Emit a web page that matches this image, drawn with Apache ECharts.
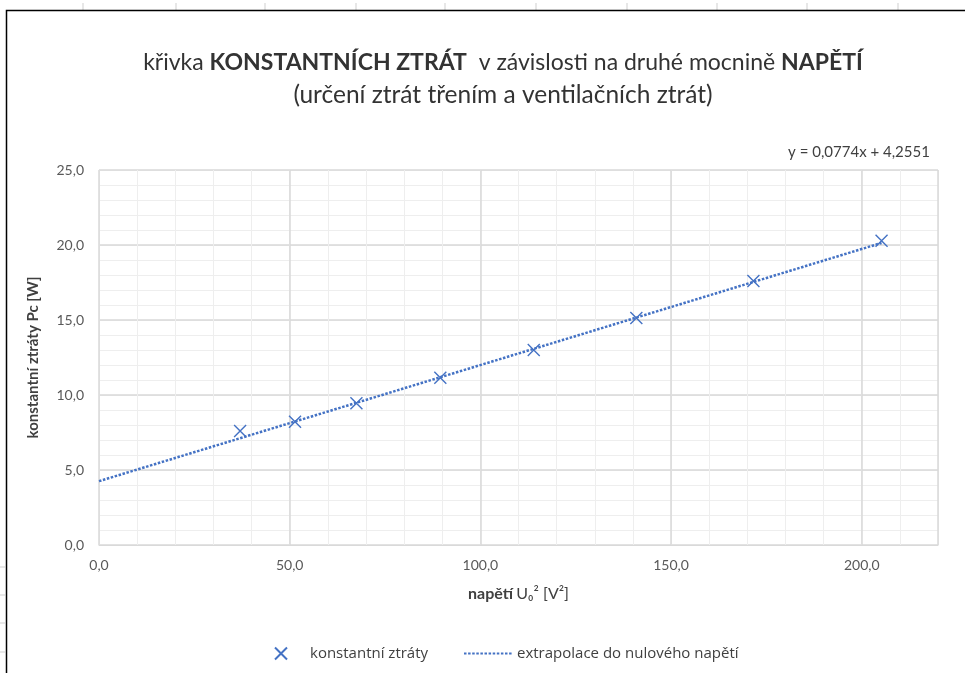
<!DOCTYPE html>
<html>
<head>
<meta charset="utf-8">
<script src="https://cdn.jsdelivr.net/npm/echarts@6/dist/echarts.min.js"></script>
<style>
  html, body { margin: 0; padding: 0; background: #fff; }
  #chart { width: 965px; height: 673px; }
</style>
</head>
<body>
<div id="chart"></div>
<script>
// Measured points: squared voltage U0^2 [V^2] and constant losses Pc [W]
const voltageSq = [37.0, 51.4, 67.5, 89.5, 114.0, 140.9, 171.6, 205.2];
const constLoss = [7.6, 8.22, 9.45, 11.15, 13.0, 15.13, 17.6, 20.29];

// Linear trend stated in the chart: y = 0,0774x + 4,2551
const trendSlope = 0.0774;
const trendIntercept = 4.2551;

// Axis tick values
const xTicks = [0, 50, 100, 150, 200];
const yTicks = [0, 5, 10, 15, 20, 25];

const seriesNames = ['konstantní ztráty', 'extrapolace do nulového napětí'];

const FONT = 'Lato, "Liberation Sans", sans-serif';
const FONT_WIDE = '"Open Sans", Lato, sans-serif';
const BLUE = '#4472C4';
const fmt = v => v.toFixed(1).replace('.', ',');

const points = voltageSq.map((x, i) => [x, constLoss[i]]);
const xEnd = Math.max(...voltageSq);
const trendLine = [0, xEnd].map(x => [x, trendIntercept + trendSlope * x]);

const xMax = 220, yMax = 25;

const chart = echarts.init(document.getElementById('chart'), null, { renderer: 'canvas' });

// Spreadsheet cell edges peeking out along the top and left border
const edgeMarks = [];
[83, 176, 265, 356, 445, 536, 627, 717, 807, 898].forEach(x => {
  edgeMarks.push({ type: 'line', shape: { x1: x, y1: 3, x2: x, y2: 10 }, style: { stroke: '#cfcfcf', lineWidth: 1 }, silent: true });
});
[567, 595, 623, 652].forEach(y => {
  edgeMarks.push({ type: 'line', shape: { x1: 0, y1: y, x2: 5, y2: y }, style: { stroke: '#cfcfcf', lineWidth: 1 }, silent: true });
});

chart.setOption({
  backgroundColor: '#ffffff',
  animation: false,
  title: {
    text: '{n|křivka }{b|KONSTANTNÍCH ZTRÁT}{n|  v závislosti na druhé mocnině }{b|NAPĚTÍ}\n{m|(určení ztrát třením a ventilačních ztrát)}',
    left: 498,
    top: 42,
    textAlign: 'center',
    textStyle: {
      fontWeight: 'normal',
      rich: {
        n: { fontFamily: FONT, fontSize: 23, fontWeight: 'normal', color: '#333333', lineHeight: 32 },
        b: { fontFamily: FONT, fontSize: 23, fontWeight: 'bold', color: '#333333', lineHeight: 32 },
        m: { fontFamily: FONT, fontSize: 24.5, fontWeight: 'normal', color: '#333333', lineHeight: 32 }
      }
    }
  },
  legend: [
    {
      data: [seriesNames[0]],
      left: 269, top: 641,
      itemWidth: 12, itemHeight: 12,
      textStyle: { fontFamily: FONT_WIDE, fontSize: 15, color: '#404040', padding: [0, 0, 0, 18] }
    },
    {
      data: [seriesNames[1]],
      left: 458, top: 641,
      itemWidth: 48, itemHeight: 12,
      itemStyle: { opacity: 0 },
      textStyle: { fontFamily: FONT_WIDE, fontSize: 15, color: '#404040' }
    }
  ],
  grid: { left: 99, right: 27, top: 170, bottom: 128, containLabel: false },
  xAxis: [
    {
      // minor grid every 10
      type: 'value', position: 'bottom', min: 0, max: xMax, interval: 10,
      axisLine: { show: false }, axisTick: { show: false }, axisLabel: { show: false },
      splitLine: { show: true, lineStyle: { color: '#eeeeee', width: 1 } }
    },
    {
      type: 'value', position: 'bottom', min: 0, max: xMax, interval: 50,
      name: '{b|napětí} {n|U₀² [V²]}',
      nameLocation: 'middle', nameGap: 41,
      nameTextStyle: {
        rich: {
          b: { fontFamily: FONT, fontSize: 16, fontWeight: 'bold', color: '#404040' },
          n: { fontFamily: FONT, fontSize: 16, color: '#404040' }
        }
      },
      axisLine: { show: true, onZero: false, lineStyle: { color: '#d9d9d9', width: 1 } },
      axisTick: { show: false },
      axisLabel: {
        fontFamily: FONT, fontSize: 14, color: '#595959', margin: 13,
        showMaxLabel: false,
        formatter: v => (xTicks.includes(v) ? fmt(v) : '')
      },
      splitLine: { show: true, lineStyle: { color: '#d9d9d9', width: 1.5 } }
    }
  ],
  yAxis: [
    {
      type: 'value', position: 'left', min: 0, max: yMax, interval: 1,
      axisLine: { show: false }, axisTick: { show: false }, axisLabel: { show: false },
      splitLine: { show: true, lineStyle: { color: '#eeeeee', width: 1 } }
    },
    {
      type: 'value', position: 'left', min: 0, max: yMax, interval: 5,
      name: 'konstantní ztráty Pc [W]',
      nameLocation: 'middle', nameGap: 58,
      nameTextStyle: { fontFamily: FONT, fontSize: 15, fontWeight: 'bold', color: '#404040' },
      axisLine: { show: false }, axisTick: { show: false },
      axisLabel: {
        fontFamily: FONT, fontSize: 14, color: '#595959', margin: 15,
        formatter: v => (yTicks.includes(v) ? fmt(v) : '')
      },
      splitLine: { show: true, lineStyle: { color: '#d9d9d9', width: 1.5 } }
    }
  ],
  series: [
    {
      name: seriesNames[1],
      type: 'line',
      xAxisIndex: 1, yAxisIndex: 1,
      data: trendLine,
      symbol: 'none',
      lineStyle: { color: BLUE, width: 2.5, type: [2.5, 1.6] },
      itemStyle: { color: BLUE },
      z: 3
    },
    {
      name: seriesNames[0],
      type: 'scatter',
      xAxisIndex: 1, yAxisIndex: 1,
      data: points,
      symbol: 'path://M0,0L10,10M10,0L0,10',
      symbolSize: 12,
      itemStyle: { color: BLUE, borderColor: BLUE, borderWidth: 1.4, opacity: 1 },
      z: 4
    }
  ],
  graphic: [
    {
      type: 'rect',
      shape: { x: 6.5, y: 10.5, width: 1000, height: 700 },
      style: { fill: 'none', stroke: '#000000', lineWidth: 1.5 },
      silent: true, z: 100
    },
    {
      type: 'text',
      x: 859, y: 152,
      style: {
        text: 'y = 0,0774x + 4,2551',
        font: '15px ' + FONT,
        fill: '#404040',
        align: 'center', verticalAlign: 'middle'
      },
      silent: true
    },
    ...edgeMarks
  ]
});
</script>
</body>
</html>
